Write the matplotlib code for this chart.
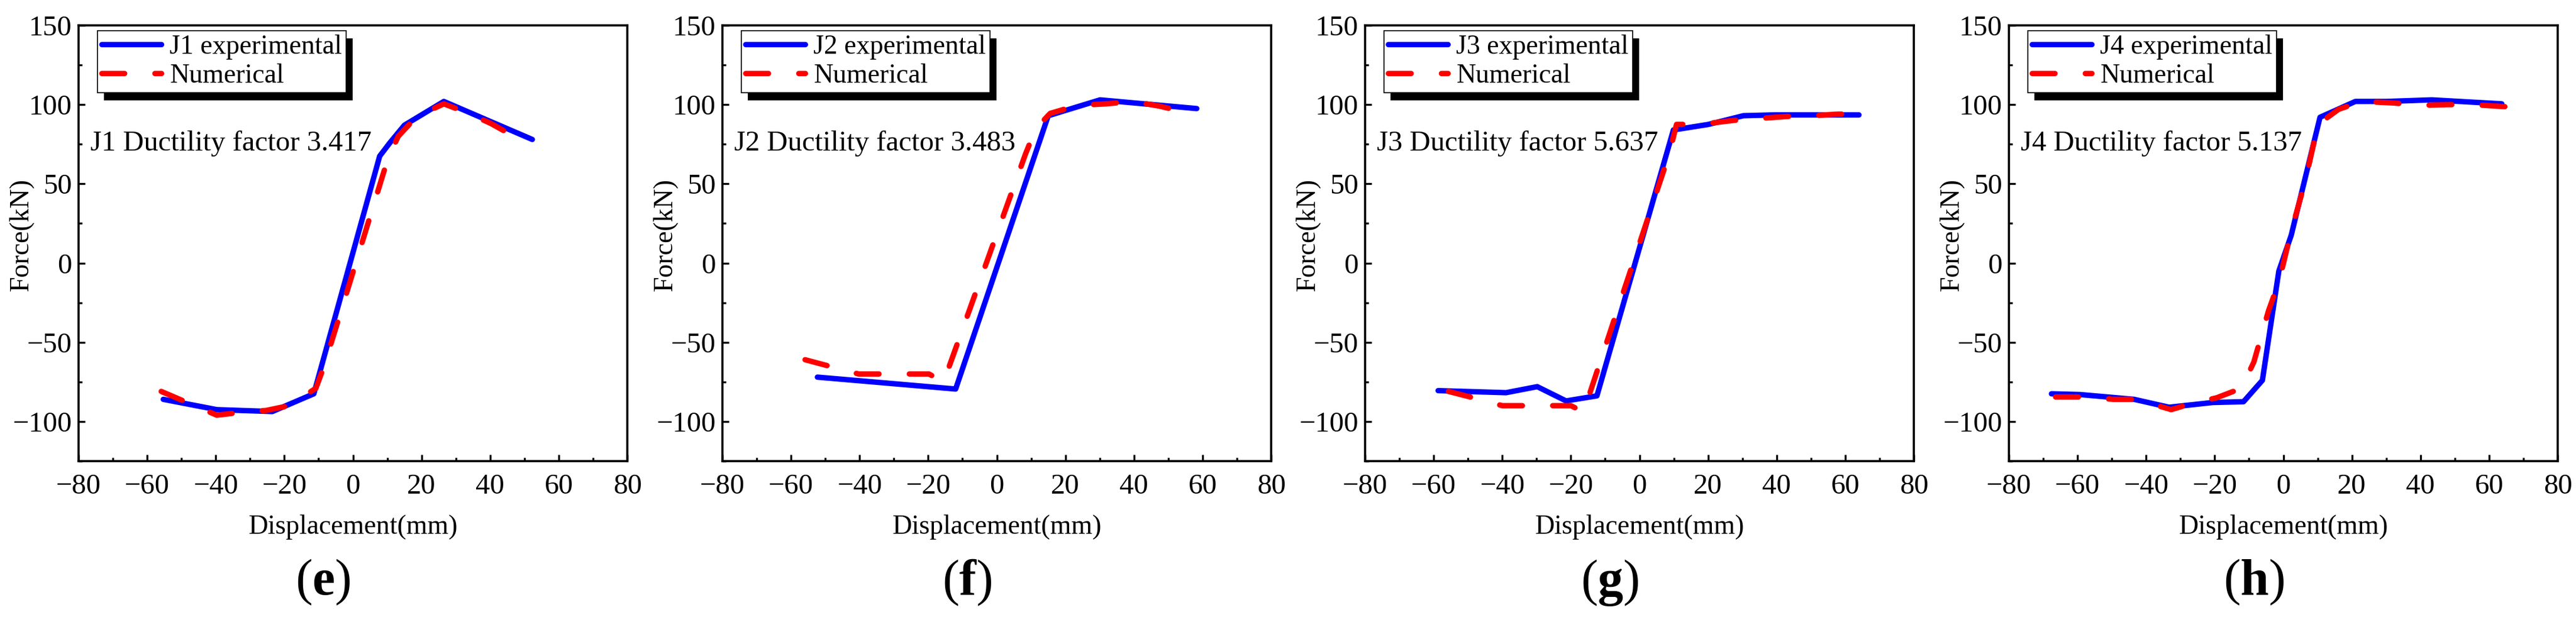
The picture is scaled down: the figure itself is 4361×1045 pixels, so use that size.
import matplotlib
matplotlib.use("Agg")
import matplotlib.pyplot as plt
from matplotlib.patches import Rectangle
from matplotlib.ticker import MultipleLocator

plt.rcParams['font.family'] = ['Liberation Serif', 'DejaVu Serif']
plt.rcParams['mathtext.fontset'] = 'custom'
plt.rcParams['mathtext.rm'] = 'Liberation Serif'
plt.rcParams['mathtext.bf'] = 'Liberation Serif:bold'

# ---------------- data ----------------
names = ["J1", "J2", "J3", "J4"]
ductility = ["3.417", "3.483", "5.637", "5.137"]
panel_letters = ["e", "f", "g", "h"]

j1_exp_x = [-55.3, -39.7, -23.5, -11.4, 7.8, 10.8, 15.0, 26.5, 52.3]
j1_exp_y = [-86, -92.5, -93.7, -82.5, 67.5, 76, 87, 102, 78]
j1_num_x = [-55.9, -39.7, -33.7, -25.3, -18.6, -10.8, -8.4, 10.2, 13.2, 18.6, 26.5, 33.7, 40.3, 46.9]
j1_num_y = [-81, -96, -94.5, -93, -90, -79, -65, 66, 80, 92.5, 100.5, 94.5, 88, 80]

j2_exp_x = [-52.3, -12.0, 15.0, 30.1, 58.3]
j2_exp_y = [-72, -79.5, 93, 103, 97.5]
j2_num_x = [-55.9, -40.3, -19.8, -15.5, 8.4, 11.4, 15.6, 23.5, 31.9, 39.7, 47.5, 55.3]
j2_num_y = [-61, -70, -70, -75, 69, 85, 94.5, 99.5, 100.5, 102, 99, 95]

j3_exp_x = [-58.7, -38.9, -29.8, -21.4, -12.4, 9.9, 20.1, 30.3, 39.3, 64.0]
j3_exp_y = [-80.5, -81.8, -78, -87, -83.8, 84, 87.5, 93, 93.5, 93.5]
j3_num_x = [-55.7, -48.5, -40, -20, -16.3, 8.7, 10.8, 17.7, 27.3, 33.3, 42.9, 50.1, 57.9, 63.3]
j3_num_y = [-81, -85, -90, -90, -94, 69, 87.5, 87.5, 90, 91, 92.5, 93, 94, 94]

j4_exp_x = [-67.6, -59.2, -43.5, -33.3, -20.6, -11.6, -6.1, -1.3, 2.3, 10.7, 21, 30, 43.3, 63.7]
j4_exp_y = [-82.5, -83, -86, -91, -88, -87.5, -74, -5, 17.5, 92, 102, 102, 103, 100.5]
j4_num_x = [-66.4, -58.6, -49.5, -42.9, -32.7, -27.2, -19.4, -12.2, -8.6, -4.3, -1.3, 2.3, 6.5, 10.1,
            16.1, 22.8, 32.4, 39.6, 48, 55.3, 66.1]
j4_num_y = [-84.5, -84.5, -86, -86, -92.5, -89, -85, -79, -62.5, -30, -12, 20, 52.5, 87.5,
            97, 102, 101, 99.5, 100, 100, 98.5]

exp_x = [j1_exp_x, j2_exp_x, j3_exp_x, j4_exp_x]
exp_y = [j1_exp_y, j2_exp_y, j3_exp_y, j4_exp_y]
num_x = [j1_num_x, j2_num_x, j3_num_x, j4_num_x]
num_y = [j1_num_y, j2_num_y, j3_num_y, j4_num_y]

x_ticks = [-80, -60, -40, -20, 0, 20, 40, 60, 80]
y_ticks = [-100, -50, 0, 50, 100, 150]

# ---------------- layout ----------------
W, H = 4361, 1045
fig = plt.figure(figsize=(W / 100, H / 100), dpi=100)
lefts_px = [133, 1223, 2311, 3401]
ax_w, ax_top, ax_bot = 929, 43, 781

LW = 6.6
axes_list, legends = [], []
for i in range(4):
    ax = fig.add_axes([lefts_px[i] / W, (H - ax_bot) / H, ax_w / W, (ax_bot - ax_top) / H])
    ax.plot(exp_x[i], exp_y[i], color='#0000ff', lw=LW, solid_capstyle='round',
            solid_joinstyle='round', label=f"{names[i]} experimental", zorder=3)
    ax.plot(num_x[i], num_y[i], color='#ff0000', lw=LW, dashes=(4.2, 5.6),
            dash_capstyle='round', dash_joinstyle='round', label="Numerical", zorder=4)
    ax.set_xlim(-80, 80)
    ax.set_ylim(-125, 150)
    ax.set_xticks(x_ticks)
    ax.set_yticks(y_ticks)
    ax.xaxis.set_minor_locator(MultipleLocator(10))
    ax.yaxis.set_minor_locator(MultipleLocator(25))
    ax.tick_params(which='both', direction='in', top=False, right=False, width=2.4)
    ax.tick_params(which='major', length=8)
    ax.tick_params(which='minor', length=4.5)
    ax.tick_params(axis='x', which='major', labelsize=35, pad=15)
    ax.tick_params(axis='y', which='major', labelsize=35, pad=8)
    for s in ax.spines.values():
        s.set_linewidth(2.6)
    ax.set_xlabel("Displacement(mm)", fontsize=33, va='center')
    ax.xaxis.set_label_coords(0.5, -0.152)
    ax.set_ylabel("Force(kN)", fontsize=33, va='center')
    ax.yaxis.set_label_coords(-0.104, 0.52)
    ax.text(-76.5, 71, f"{names[i]} Ductility factor {ductility[i]}", fontsize=35,
            ha='left', va='baseline')
    ax.text(0.446, -0.279, r"($\mathbf{" + panel_letters[i] + r"}$)", fontsize=62,
            ha='center', va='center', transform=ax.transAxes)
    leg = ax.legend(loc='upper left', bbox_to_anchor=(0.0344, 0.988), borderaxespad=0,
                    fontsize=33, frameon=True, fancybox=False, framealpha=1,
                    edgecolor='black', handlelength=2.2, handletextpad=0.32,
                    borderpad=0.15, labelspacing=0.14)
    leg.get_frame().set_linewidth(1.2)
    leg.set_zorder(6)
    axes_list.append(ax)
    legends.append(leg)

# shadow behind legend boxes
fig.canvas.draw()
for ax, leg in zip(axes_list, legends):
    bb = leg.get_window_extent()
    inv = ax.transAxes.inverted()
    (x0, y0) = inv.transform((bb.x0 + 11, bb.y0 - 13))
    (x1, y1) = inv.transform((bb.x1 + 11, bb.y1 - 13))
    ax.add_patch(Rectangle((x0, y0), x1 - x0, y1 - y0, transform=ax.transAxes,
                           facecolor='black', edgecolor='none', zorder=5.5, clip_on=False))

fig.savefig("out.png", dpi=100)
